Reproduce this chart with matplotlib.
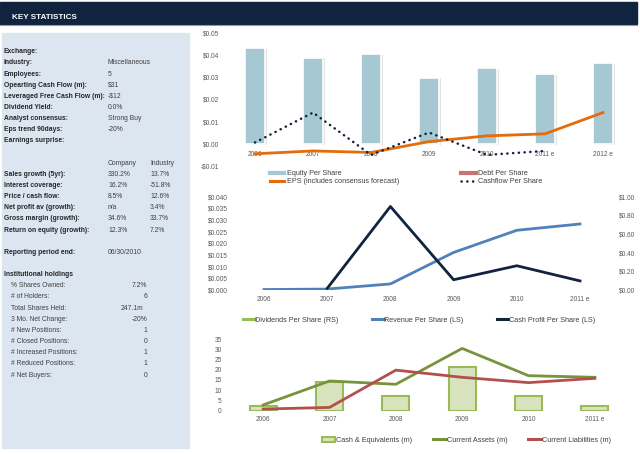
import numpy as np
import matplotlib

matplotlib.use("Agg")
import matplotlib.pyplot as plt
from matplotlib import font_manager
from matplotlib.lines import Line2D
from matplotlib.patches import Rectangle
from matplotlib.ticker import FuncFormatter


W, H = 640, 454
NAN = np.nan

# key statistics panel
key_labels = ["Exchange:", "Industry:", "Employees:", "Opearting Cash Flow (m):",
              "Leveraged Free Cash Flow (m):", "Dividend Yield:", "Analyst consensus:",
              "Eps trend 90days:", "Earnings surprise:"]
key_values = ["", "Miscellaneous", "5", "$31", "-$12", "0.0%", "Strong Buy", "-20%", ""]

growth_labels = ["Sales growth (5yr):", "Interest coverage:", "Price / cash flow:",
                 "Net profit av (growth):", "Gross margin (growth):",
                 "Return on equity (growth):"]
company_values = ["330.2%", "16.2%", "8.5%", "n/a", "34.6%", "12.3%"]
industry_values = ["13.7%", "-51.8%", "12.6%", "3.4%", "33.7%", "7.2%"]

reporting_period = "06/30/2010"

holdings_labels = ["% Shares Owned:", "# of Holders:", "Total Shares Held:",
                   "3 Mo. Net Change:", "# New Positions:", "# Closed Positions:",
                   "# Increased Positions:", "# Reduced Positions:", "# Net Buyers:"]
holdings_values = ["7.2%", "6", "247.1m", "-20%", "1", "0", "1", "1", "0"]

# per share chart
years_top = ["2006", "2007", "2008", "2009", "2010", "2011 e", "2012 e"]
equity_ps = [0.0431, 0.0389, 0.0405, 0.0299, 0.0341, 0.0315, 0.0366]
debt_ps = [NAN, NAN, NAN, NAN, NAN, NAN, NAN]
eps = [-0.0045, -0.0032, -0.0039, 0.0010, 0.0036, 0.0045, 0.0141]
cashflow_ps = [0.0006, 0.0141, -0.0050, 0.0051, -0.0050, -0.0032, NAN]

# revenue / profit chart
years_mid = ["2006", "2007", "2008", "2009", "2010", "2011 e"]
dividends_ps = [NAN, NAN, NAN, NAN, NAN, NAN]
revenue_ps = [0.0002, 0.0004, 0.0026, 0.0161, 0.0256, 0.0283]
cash_profit_ps = [NAN, 0.0007, 0.0358, 0.0044, 0.0104, 0.0039]

# balance chart
years_bot = ["2006", "2007", "2008", "2009", "2010", "2011 e"]
cash_equiv = [2.4, 13.9, 7.3, 21.5, 7.3, 2.4]
current_assets = [2.8, 14.5, 12.9, 30.4, 17.1, 16.3]
current_liab = [0.8, 1.6, 19.8, 16.3, 13.7, 15.8]

NAVY = "#10243f"
TICK = "#595959"
TXT = "#404040"

installed = {f.name for f in font_manager.fontManager.ttflist}
NARROW = "Liberation Sans Narrow" in installed
FONT = "Liberation Sans Narrow" if NARROW else "Liberation Sans"
plt.rcParams["font.family"] = [FONT, "DejaVu Sans"]
K = 1.0 if NARROW else 0.84
FS_PANEL = 5.8 * K
FS_LEG = 6.2 * K
FS_TICK = 5.6 * K


def px_axes(fig, x0, y0, x1, y1):
    return fig.add_axes([x0 / W, 1 - y1 / H, (x1 - x0) / W, (y1 - y0) / H])


def dollars(decimals):
    def fmt(v, _):
        s = f"${abs(v):.{decimals}f}"
        return "-" + s if v < -1e-12 else s
    return FuncFormatter(fmt)


def clean(ax):
    for s in ax.spines.values():
        s.set_visible(False)
    ax.set_facecolor("none")
    ax.tick_params(length=0, labelsize=FS_TICK, labelcolor=TICK)


def legend(fig, handles, labels, x, y, ncol, **kw):
    fig.legend(handles, labels, ncol=ncol, loc="upper left",
               bbox_to_anchor=(x / W, 1 - y / H), frameon=False, fontsize=FS_LEG,
               labelcolor=TXT, borderpad=0, borderaxespad=0, **kw)


def draw_panel(fig):
    bg = fig.add_axes([0, 0, 1, 1])
    bg.set_xlim(0, W)
    bg.set_ylim(H, 0)
    bg.axis("off")

    bg.add_patch(Rectangle((0, 2), 637, 22, color=NAVY))
    bg.plot([0, 637], [24.5, 24.5], color="#8d99a8", lw=0.8)
    bg.text(12, 17.5, "KEY STATISTICS", color="white", fontsize=7.0 * K,
            fontweight="bold", va="center")
    bg.add_patch(Rectangle((2, 33), 187, 415, color="#dce6f1"))

    row = lambda i: 51.7 + 11.15 * i
    bold = dict(fontsize=FS_PANEL, fontweight="bold", color="#262626", va="center")
    plain = dict(fontsize=FS_PANEL, color=TXT, va="center")
    for i, (lab, val) in enumerate(zip(key_labels, key_values)):
        bg.text(4, row(i), lab, **bold)
        bg.text(108, row(i), val, **plain)

    bg.text(108, row(10), "Company", **plain)
    bg.text(150, row(10), "Industry", **plain)
    for i, lab in enumerate(growth_labels):
        bg.text(4, row(11 + i), lab, **bold)
        bg.text(108, row(11 + i), company_values[i], **plain)
        bg.text(150, row(11 + i), industry_values[i], **plain)

    bg.text(4, row(18), "Reporting period end:", **bold)
    bg.text(108, row(18), reporting_period, **plain)

    bg.text(4, row(20), "Institutional holdings", **bold)
    for i, (lab, val) in enumerate(zip(holdings_labels, holdings_values)):
        bg.text(11, row(21 + i), lab, **plain)
        xr = 143.5 if val.endswith("m") else 147
        bg.text(xr, row(21 + i), val, ha="right", **plain)


def draw_top(fig):
    ax = px_axes(fig, 226, 33, 632, 166)
    x = np.arange(len(years_top))
    ax.bar(x + 0.035, equity_ps, width=0.36, bottom=-0.0004, color="#e2e2e2", zorder=1)
    ax.bar(x, equity_ps, width=0.36, color="#a6c8d3", edgecolor="white", lw=1.2, zorder=2)
    ax.bar(x, debt_ps, width=0.36, color="#c0504d", zorder=2)
    ax.plot(x, eps, color="#e46c0a", lw=2, zorder=3)
    ax.plot(x, cashflow_ps, color=NAVY, lw=1.8, linestyle=(0, (0.1, 2.2)),
            dash_capstyle="round", zorder=4)

    ax.set_xlim(-0.5, len(years_top) - 0.5)
    ax.set_ylim(-0.01, 0.05)
    ax.set_yticks(np.arange(-0.01, 0.0501, 0.01))
    ax.yaxis.set_major_formatter(dollars(2))
    ax.set_xticks(x, years_top)
    clean(ax)
    ax.spines["bottom"].set_position(("data", 0))
    ax.tick_params(axis="y", pad=5)
    ax.tick_params(axis="x", pad=5)

    handles = [
        Line2D([], [], color="#a6c8d3", lw=3),
        Line2D([], [], color="#e46c0a", lw=2.2),
        Line2D([], [], color="#c0504d", lw=3, alpha=0.8),
        Line2D([], [], color=NAVY, lw=1.8, linestyle=(0, (0.1, 2.2)), dash_capstyle="round"),
    ]
    labels = ["Equity Per Share", "EPS (includes consensus forecast)",
              "Debt Per Share", "Cashflow Per Share"]
    legend(fig, handles, labels, 270, 170, 2, handlelength=2.0, handletextpad=0.3,
           labelspacing=0.15, columnspacing=8.6)


def draw_mid(fig):
    ax = px_axes(fig, 232.4, 196.7, 611.6, 290)
    axr = ax.twinx()
    x = np.arange(len(years_mid))
    axr.plot(x, dividends_ps, color="#9bbb59", lw=2)
    ax.plot(x, revenue_ps, color="#4f81bd", lw=2, zorder=3)
    ax.plot(x, cash_profit_ps, color=NAVY, lw=2, zorder=4)

    ax.set_xlim(-0.5, len(years_mid) - 0.5)
    ax.set_ylim(0, 0.04)
    ax.set_yticks(np.arange(0, 0.0401, 0.005))
    ax.yaxis.set_major_formatter(dollars(3))
    axr.set_ylim(0, 1.0)
    axr.set_yticks(np.arange(0, 1.01, 0.2))
    axr.yaxis.set_major_formatter(dollars(2))
    ax.set_xticks(x, years_mid)
    clean(ax)
    clean(axr)
    ax.tick_params(axis="y", pad=3)
    axr.tick_params(axis="y", pad=5)
    ax.tick_params(axis="x", pad=4)

    handles = [Line2D([], [], color="#9bbb59", lw=2.2),
               Line2D([], [], color="#4f81bd", lw=2.2),
               Line2D([], [], color=NAVY, lw=2.2)]
    labels = ["Dividends Per Share (RS)", "Revenue Per Share (LS)",
              "Cash Profit Per Share (LS)"]
    legend(fig, handles, labels, 243, 316.5, 3, handlelength=1.6,
           handletextpad=0.1, columnspacing=4.6)


def draw_bottom(fig):
    ax = px_axes(fig, 230, 339, 628, 410.7)
    x = np.arange(len(years_bot))
    bars = ax.bar(x, cash_equiv, width=0.41, color="#d7e4bd", edgecolor="#9bbb59",
                  lw=1.5, zorder=1)
    ax.plot(x, current_assets, color="#77933c", lw=2, zorder=3)
    ax.plot(x, current_liab, color="#b3504e", lw=2, zorder=4)

    ax.set_xlim(-0.5, len(years_bot) - 0.5)
    ax.set_ylim(0, 35)
    ax.set_yticks(np.arange(0, 36, 5))
    ax.set_xticks(x, years_bot)
    clean(ax)
    ax.tick_params(axis="y", pad=6)
    ax.tick_params(axis="x", pad=4)

    handles = [bars.patches[0],
               Line2D([], [], color="#77933c", lw=2.2),
               Line2D([], [], color="#b3504e", lw=2.2)]
    labels = ["Cash & Equivalents (m)", "Current Assets (m)", "Current Liabilities (m)"]
    legend(fig, handles, labels, 322, 436.5, 3, handlelength=1.8,
           handletextpad=0.1, columnspacing=2.9)


def main():
    fig = plt.figure(figsize=(W / 100, H / 100), dpi=100)
    draw_panel(fig)
    draw_top(fig)
    draw_mid(fig)
    draw_bottom(fig)
    fig.savefig("out.png", dpi=100)
    plt.close(fig)


if __name__ == "__main__":
    main()
